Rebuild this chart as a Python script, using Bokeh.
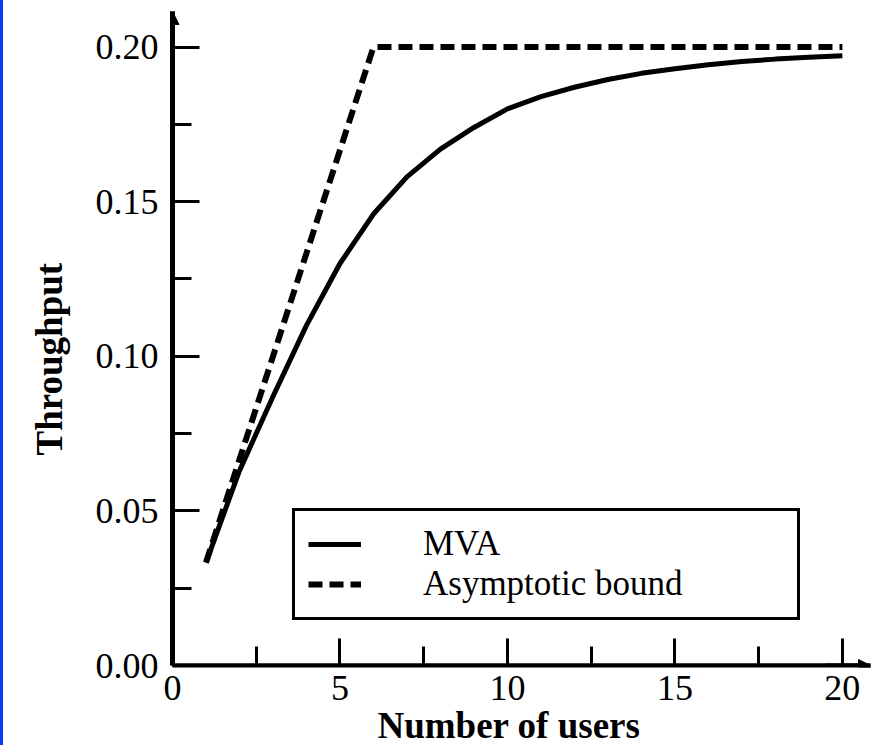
from bokeh.plotting import figure
from bokeh.models import (Range1d, FixedTicker, NumeralTickFormatter, Legend, LegendItem,
                          Arrow, NormalHead, Span, Div, Title)
from bokeh.layouts import row
from bokeh.embed import file_html
from bokeh.resources import INLINE

# ---- data ----
users = [1, 2, 3, 4, 5, 6, 7, 8, 9, 10, 11, 12, 13, 14, 15, 16, 17, 18, 19, 20]
mva = [0.0333, 0.063, 0.087, 0.110, 0.130, 0.146, 0.158, 0.167, 0.174, 0.180,
       0.184, 0.187, 0.1895, 0.1915, 0.193, 0.1943, 0.1953, 0.1961, 0.1967, 0.1972]
bound_users = [1, 6, 20]
bound = [0.0333, 0.200, 0.200]
x_ticks = [0, 5, 10, 15, 20]
x_minor = [2.5, 7.5, 12.5, 17.5]
y_ticks = [0.00, 0.05, 0.10, 0.15, 0.20]
y_minor = [0.025, 0.075, 0.125, 0.175]
x_title = "Number of users"
y_title = "Throughput"

FONT = "Liberation Serif"

# frame: x 0..20.84 -> page px 172..870, y 0..0.2115 -> page px 665..11
p = figure(width=868, height=745, output_backend="svg", toolbar_location=None,
           x_range=Range1d(0, 20.84), y_range=Range1d(0, 0.2115),
           min_border_left=169, min_border_right=1, min_border_top=11, min_border_bottom=80)
p.outline_line_color = None
p.xgrid.visible = False
p.ygrid.visible = False

r_mva = p.line(users, mva, line_color="black", line_width=5)
r_bnd = p.line(bound_users, bound, line_color="black", line_width=6, line_dash="14 7")

for ax, ticks, minor in ((p.xaxis[0], x_ticks, x_minor), (p.yaxis[0], y_ticks, y_minor)):
    ax.ticker = FixedTicker(ticks=ticks, minor_ticks=minor)
    ax.major_tick_in = 27
    ax.major_tick_out = 0
    ax.minor_tick_in = 19
    ax.minor_tick_out = 0
    ax.major_tick_line_width = 3
    ax.minor_tick_line_width = 3
    ax.major_tick_line_color = "black"
    ax.minor_tick_line_color = "black"
    ax.axis_line_color = "black"
    ax.major_label_text_font = FONT
    ax.major_label_text_font_size = "36px"
    ax.major_label_text_color = "black"

p.xaxis[0].axis_line_width = 4
p.yaxis[0].axis_line_width = 5
p.xaxis[0].major_label_standoff = 10
p.yaxis[0].major_label_standoff = 14
p.yaxis[0].formatter = NumeralTickFormatter(format="0.00")
p.xaxis[0].formatter = NumeralTickFormatter(format="0")

# thick axis lines
p.add_layout(Span(location=0, dimension="height", line_color="black", line_width=5))
p.add_layout(Span(location=0, dimension="width", line_color="black", line_width=4))

# axis arrow heads
p.add_layout(Arrow(x_start=0, y_start=0.19, x_end=0, y_end=0.2115, line_width=5,
                   end=NormalHead(size=13, fill_color="black", line_color="black")))
p.add_layout(Arrow(x_start=19.5, y_start=0, x_end=20.84, y_end=0, line_width=4,
                   end=NormalHead(size=12, fill_color="black", line_color="black")))

# axis titles, placed as in the original figure
p.add_layout(Title(text=x_title, align="left", offset=205, standoff=0,
                   text_font=FONT, text_font_size="37px", text_font_style="bold",
                   text_color="black"), "below")
p.add_layout(Title(text=y_title, align="left", offset=210, standoff=45,
                   text_font=FONT, text_font_size="37px", text_font_style="bold",
                   text_color="black"), "left")

legend = Legend(items=[LegendItem(label="MVA", renderers=[r_mva]),
                       LegendItem(label="Asymptotic bound", renderers=[r_bnd])],
                location=(120, 45), margin=0, padding=13, spacing=-12,
                glyph_width=53, glyph_height=30, label_height=30, label_standoff=62,
                label_width=361, border_line_color="black", border_line_width=3,
                border_line_alpha=1,
                background_fill_color="white", background_fill_alpha=1,
                label_text_font=FONT, label_text_font_size="35px", label_text_color="black")
p.add_layout(legend)

strip = Div(text="", width=3, height=745, margin=0,
            styles={"background-color": "#0a3cf5"})

layout = row(strip, p, spacing=0)
open("out.html", "w").write(file_html(layout, INLINE))
